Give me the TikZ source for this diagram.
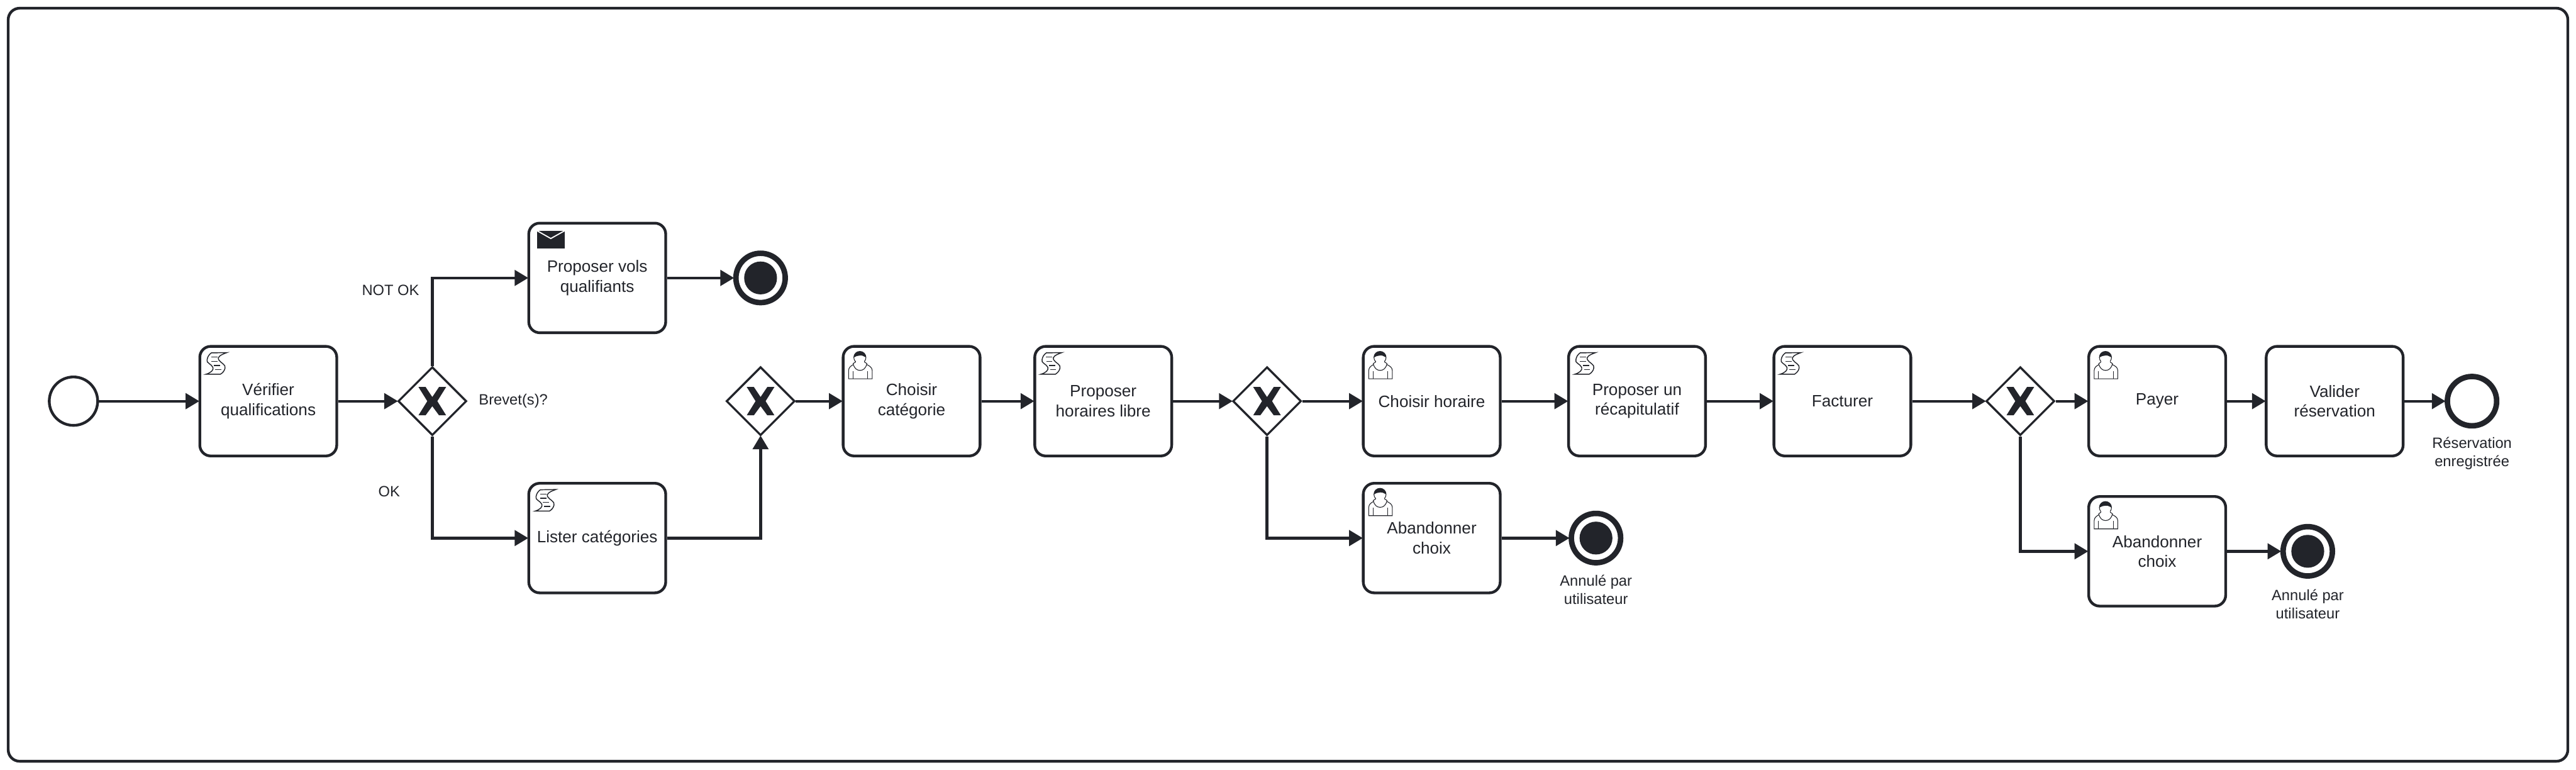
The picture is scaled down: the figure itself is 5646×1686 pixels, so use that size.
\documentclass[tikz,border=0pt]{standalone}
\usepackage{fontspec}
\setmainfont{Liberation Sans}
\usetikzlibrary{shapes.geometric,arrows.meta}
\definecolor{ink}{HTML}{22242A}
\tikzset{
  base/.style={text=ink,draw=ink},
  taskbox/.style={base,shape=rectangle,line width=0.06cm,rounded corners=0.24cm,minimum width=3cm,minimum height=2.4cm,inner sep=0pt,align=center,fill=white,font=\fontsize{10.24}{12.3}\selectfont},
  gateway/.style={base,shape=diamond,line width=0.045cm,minimum width=1.5cm,minimum height=1.5cm,inner sep=0pt,fill=white},
  startev/.style={base,shape=circle,line width=0.06cm,minimum size=1.06cm,inner sep=0pt,fill=white},
  endev/.style={base,shape=circle,line width=0.12cm,minimum size=1.08cm,inner sep=0pt,fill=white},
  note/.style={text=ink,align=center,inner sep=0pt,font=\fontsize{9.3}{11.38}\selectfont},
  flow/.style={draw=ink,line width=0.06cm,shorten >=-0.02cm,-{Triangle[length=0.3cm,width=0.34cm,fill=ink]}},
  scripticon/.pic={
    \begin{scope}[shift={(3,3)}]
    \draw[ink,line width=0.02cm,fill=white,line join=miter] (25.3,14.3) -- (59.3,13.7) .. controls (44,19) and (38,24) .. (41.3,29.3) .. controls (45,36) and (58,40) .. (55.3,47.7) .. controls (54,54) and (50,58) .. (45.3,61) -- (13.7,61) .. controls (24,58) and (31,52) .. (28.7,46) .. controls (26,39) and (13,36) .. (16,29.3) .. controls (17,23) and (20,18) .. (25.3,14.3) -- cycle;
    \draw[ink,line width=0.02cm] (24.7,23.7) -- (38.7,23.7) (25.3,32.7) -- (38.7,32.7) (31.3,42) -- (44.7,42) (33.7,50.7) -- (47,50.7);
    \end{scope}
  },
  usericon/.pic={
    \begin{scope}[shift={(3,3)}]
    \draw[ink,line width=0.015cm,fill=white] (12,71) -- (12,52.7) .. controls (12,46) and (18,42) .. (23.7,39.3) -- (50.3,39.3) .. controls (57,42) and (63.7,46) .. (63.7,52.7) -- (63.7,71) -- cycle;
    \draw[ink,line width=0.015cm,fill=white] (36.7,24.3) circle (13.3);
    \draw[ink,line width=0.015cm,fill=white] (22,37.7) .. controls (24,48) and (30,52.7) .. (37,52.7) .. controls (44,52.7) and (50,48) .. (52,37.7) -- (45,33) -- (29,33) -- cycle;
    \fill[white] (28,31) rectangle (46,38);
    \fill[ink] (23.4,24.3) .. controls (23.4,15) and (30,11) .. (36.7,11) .. controls (43,11) and (50,16) .. (50,24.3) .. controls (46,23) and (43,19) .. (37,20) .. controls (32,21) and (27,21) .. (23.4,24.3) -- cycle;
    \draw[ink,line width=0.015cm] (21.3,54) -- (21.3,71) (54,54) -- (54,71);
    \end{scope}
  },
  mailicon/.pic={
    \begin{scope}[shift={(3,3)}]
    \fill[ink] (18.3,16.7) rectangle (78.7,55.3);
    \draw[white,line width=0.025cm] (18.3,16.7) -- (48.3,33.7) -- (78.7,16.7);
    \end{scope}
  },
  xmark/.pic={
    \fill[ink] (-30.3,-31) -- (-14.7,-31) -- (0,-9) -- (14.7,-31) -- (30.3,-31) -- (11,0) -- (30.3,31) -- (14.7,31) -- (0,11) -- (-14.7,31) -- (-30.3,31) -- (-11,0) -- cycle;
  },
}
\begin{document}
\begin{tikzpicture}[x=0.01cm,y=-0.01cm]
\useasboundingbox (0,0) rectangle (5646,1686);
\fill[white] (0,0) rectangle (5646,1686);
\draw[ink,line width=0.06cm,rounded corners=0.25cm] (18,18) rectangle (5628,1668);

\node[startev] (start) at (161,879) {};
\node[taskbox] (t1) at (588,879) {Vérifier\\qualifications};
\node[gateway] (g1) at (947.5,879) {};
\node[taskbox] (pv) at (1309,609) {Proposer vols\\qualifiants};
\node[endev] (e1) at (1667,609) {};
\node[taskbox] (lc) at (1309,1179) {Lister catégories};
\node[gateway] (g2) at (1667,879) {};
\node[taskbox] (cc) at (1998,879) {Choisir\\catégorie};
\node[taskbox] (ph) at (2418,879) {Proposer\\horaires libre};
\node[gateway] (g3) at (2777,879) {};
\node[taskbox] (ch) at (3138,879) {Choisir horaire};
\node[taskbox] (ab1) at (3138,1179) {Abandonner\\choix};
\node[endev] (e2) at (3498,1179) {};
\node[taskbox] (pr) at (3588,879) {Proposer un\\récapitulatif};
\node[taskbox] (fa) at (4038,879) {Facturer};
\node[gateway] (g4) at (4428,879) {};
\node[taskbox] (pa) at (4728,879) {Payer};
\node[taskbox] (va) at (5117,879) {Valider\\réservation};
\node[endev] (e4) at (5418,879) {};
\node[taskbox] (ab2) at (4728,1208) {Abandonner\\choix};
\node[endev] (e3) at (5058,1208) {};

\foreach \e in {e1,e2,e3}{\fill[ink] (\e) circle (36);}
\foreach \g in {g1,g2,g3,g4}{\pic at (\g) {xmark};}
\foreach \t in {t1,lc,ph,pr,fa}{\pic at (\t.north west) {scripticon};}
\foreach \t in {cc,ch,ab1,pa,ab2}{\pic at (\t.north west) {usericon};}
\pic at (pv.north west) {mailicon};

\draw[flow] (start) -- (t1);
\draw[flow] (t1) -- (g1);
\draw[flow] (g1.north) |- (pv.west);
\draw[flow] (g1.south) |- (lc.west);
\draw[flow] (pv) -- (e1);
\draw[flow] (lc.east) -| (g2.south);
\draw[flow] (g2) -- (cc);
\draw[flow] (cc) -- (ph);
\draw[flow] (ph) -- (g3);
\draw[flow] (g3) -- (ch);
\draw[flow] (g3.south) |- (ab1.west);
\draw[flow] (ab1) -- (e2);
\draw[flow] (ch) -- (pr);
\draw[flow] (pr) -- (fa);
\draw[flow] (fa) -- (g4);
\draw[flow] (g4) -- (pa);
\draw[flow] (g4.south) |- (ab2.west);
\draw[flow] (ab2) -- (e3);
\draw[flow] (pa) -- (va);
\draw[flow] (va) -- (e4);

\node[note] (lnotok) at (856,636) {NOT OK};
\node[note] (lok) at (853,1077) {OK};
\node[note] (lbrevet) at (1125,878) {Brevet(s)?};
\node[note] (lan1) at (3498,1292) {Annulé par\\utilisateur};
\node[note] (lan2) at (5058,1324) {Annulé par\\utilisateur};
\node[note] (lres) at (5418,994) {Réservation\\enregistrée};
\end{tikzpicture}
\end{document}
